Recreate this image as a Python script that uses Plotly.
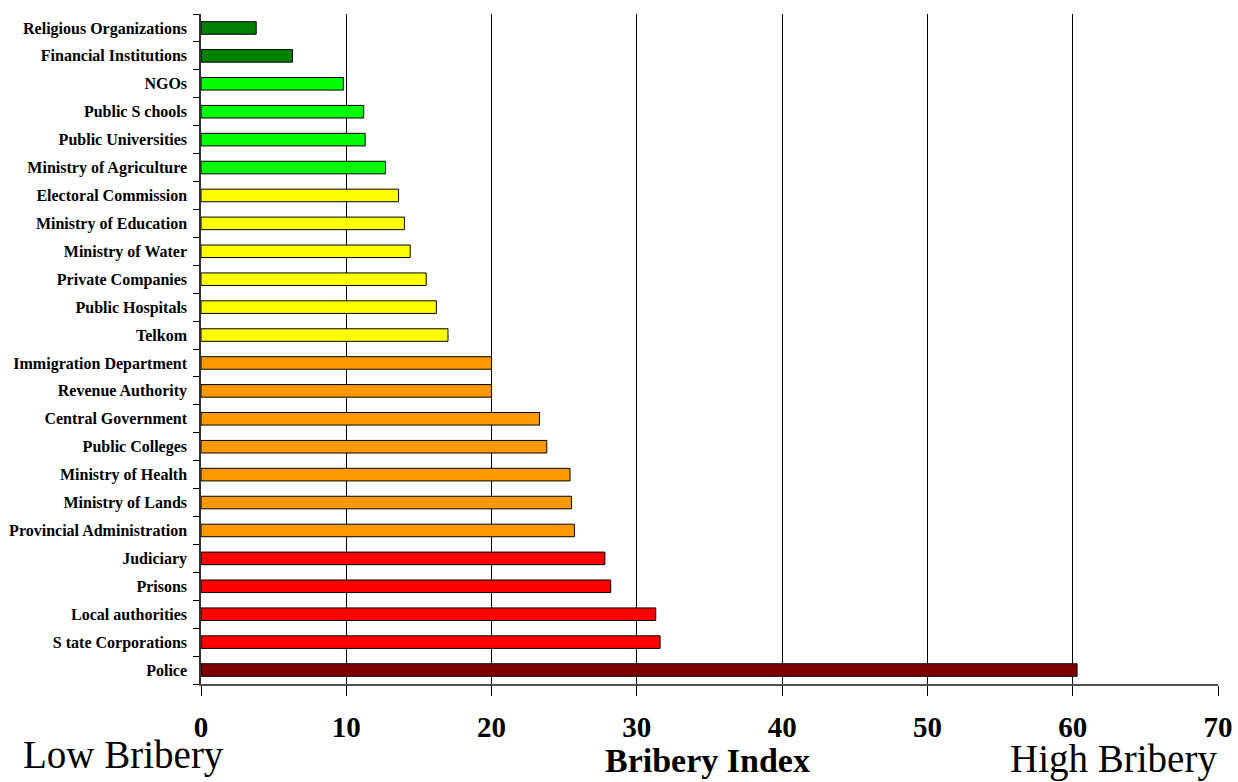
import plotly.graph_objects as go

# Institutions, top to bottom, with their bribery index
institutions = [
    "Religious Organizations", "Financial Institutions", "NGOs", "Public S chools",
    "Public Universities", "Ministry of Agriculture", "Electoral Commission",
    "Ministry of Education", "Ministry of Water", "Private Companies",
    "Public Hospitals", "Telkom", "Immigration Department", "Revenue Authority",
    "Central Government", "Public Colleges", "Ministry of Health", "Ministry of Lands",
    "Provincial Administration", "Judiciary", "Prisons", "Local authorities",
    "S tate Corporations", "Police",
]
bribery_index = [
    3.8, 6.3, 9.8, 11.2, 11.3, 12.7, 13.6, 14.0, 14.4, 15.5,
    16.2, 17.0, 20.0, 20.0, 23.3, 23.8, 25.4, 25.5, 25.7, 27.8,
    28.2, 31.3, 31.6, 60.3,
]
x_ticks = [0, 10, 20, 30, 40, 50, 60, 70]

# Colour bands, from lowest to highest bribery
DARK_GREEN, GREEN, YELLOW, ORANGE, RED, DARK_RED = (
    "#008000", "#00FF00", "#FFFF00", "#FF9900", "#FF0000", "#800000")
bar_colors = ([DARK_GREEN] * 2 + [GREEN] * 4 + [YELLOW] * 6 + [ORANGE] * 7
              + [RED] * 4 + [DARK_RED])

SERIF = "Liberation Serif, Times New Roman, serif"

fig = go.Figure(go.Bar(
    x=bribery_index,
    y=institutions,
    orientation="h",
    width=0.45,
    marker=dict(color=bar_colors, line=dict(color="#000000", width=1)),
    hoverinfo="x+y",
))

fig.update_layout(
    width=1238, height=782,
    margin=dict(l=201, r=20, t=14, b=98),
    paper_bgcolor="white", plot_bgcolor="white",
    showlegend=False,
    bargap=0.55,
    font=dict(family=SERIF, color="black"),
)

fig.update_xaxes(
    range=[0, 70],
    automargin=False,
    tickvals=x_ticks,
    ticktext=[f"<b>{v}</b>" for v in x_ticks],
    tickfont=dict(family=SERIF, size=29, color="black"),
    ticks="outside", ticklen=10, tickcolor="#000000", tickwidth=1,
    ticklabelstandoff=6,
    showgrid=True, gridcolor="#000000", gridwidth=1,
    zeroline=False,
    showline=True, linecolor="#505050", linewidth=2,
)

fig.update_yaxes(
    type="category",
    automargin=False,
    autorange="reversed",
    ticktext=[f"<b>{c}</b>" for c in institutions],
    tickvals=institutions,
    tickfont=dict(family=SERIF, size=16, color="black"),
    ticks="outside", tickson="boundaries", ticklen=6, tickcolor="#000000", tickwidth=1,
    ticklabelstandoff=9,
    showgrid=False, zeroline=False,
    showline=True, linecolor="#303030", linewidth=1.5,
)

fig.add_annotation(text="Low Bribery", xref="paper", yref="paper",
                   x=-0.0762, y=-0.106, xanchor="center", yanchor="middle",
                   showarrow=False, font=dict(family=SERIF, size=39, color="black"))
fig.add_annotation(text="<b>Bribery Index</b>", xref="paper", yref="paper",
                   x=0.4985, y=-0.114, xanchor="center", yanchor="middle",
                   showarrow=False, font=dict(family=SERIF, size=34, color="black"))
fig.add_annotation(text="High Bribery", xref="paper", yref="paper",
                   x=0.8968, y=-0.112, xanchor="center", yanchor="middle",
                   showarrow=False, font=dict(family=SERIF, size=39, color="black"))

fig.write_html("out.html")
